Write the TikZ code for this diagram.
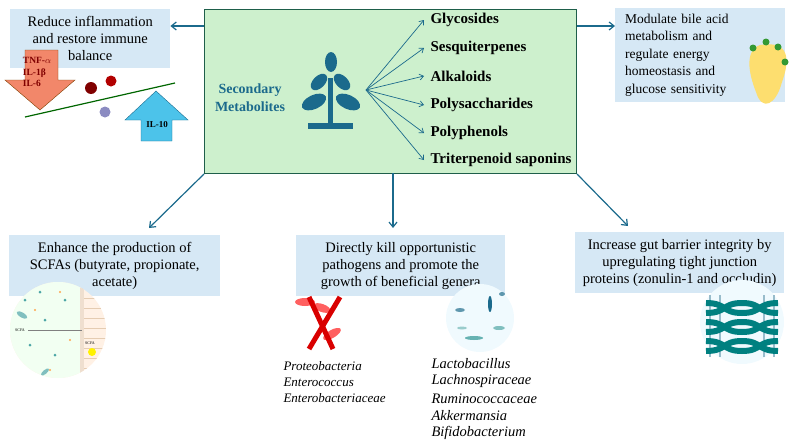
\documentclass[tikz,border=0pt]{standalone}
\usepackage{fontspec}
\setmainfont{Liberation Serif}
\usetikzlibrary{arrows.meta,shapes.geometric}
\definecolor{teal1}{HTML}{1B6A8C}
\definecolor{boxg}{HTML}{CDF0CD}
\definecolor{boxb}{HTML}{D6E8F5}
\definecolor{bordg}{HTML}{1E5E4A}
\definecolor{orng}{HTML}{F2876A}
\definecolor{cyn}{HTML}{4CC3EA}
\begin{document}
\begin{tikzpicture}[x=1pt,y=-1pt,
  lbl/.style={fill=boxb,align=center,font=\fontsize{14.5}{17}\selectfont,inner sep=2pt},
  arr/.style={teal1,line width=1.2pt,-{Straight Barb[length=5pt,width=8pt]}},
  fan/.style={teal1,line width=0.7pt,-{Straight Barb[length=4pt,width=6pt]}},
  item/.style={anchor=west,font=\bfseries\fontsize{15}{17}\selectfont},
  sp/.style={anchor=west,font=\itshape\fontsize{13}{15}\selectfont},
  spb/.style={anchor=west,font=\itshape\fontsize{14.5}{17}\selectfont}]
\useasboundingbox (0,0) rectangle (798,447);
% central box
\node[draw=bordg,line width=1pt,fill=boxg,minimum width=372pt,minimum height=164pt,anchor=north west,inner sep=0] (C) at (204,9) {};
\node[font=\bfseries\fontsize{14}{18}\selectfont,text=teal1,align=center] (SM) at (250,98) {Secondary\\Metabolites};
% plant icon
\begin{scope}[fill=teal1]
\fill (328,78) rectangle (333,124);
\fill (308,123) rectangle (353,129);
\fill (331,62) ellipse (6 and 10);
\fill[rotate around={-45:(319,82)}] (319,82) ellipse (6 and 10);
\fill[rotate around={45:(342,82)}] (342,82) ellipse (6 and 10);
\fill[rotate around={-65:(314,102)}] (314,102) ellipse (7 and 13);
\fill[rotate around={65:(348,102)}] (348,102) ellipse (7 and 13);
\end{scope}
\coordinate (F) at (366,90);
\node[item] (g1) at (427,20) {Glycosides};
\node[item] (g2) at (427,48) {Sesquiterpenes};
\node[item] (g3) at (427,76) {Alkaloids};
\node[item] (g4) at (427,105) {Polysaccharides};
\node[item] (g5) at (427,133) {Polyphenols};
\node[item] (g6) at (427,160) {Triterpenoid saponins};
\foreach \i in {1,...,6} \draw[fan] (F) -- ([xshift=-3pt]g\i.west);
% outer labels
\node[lbl,minimum width=160pt,minimum height=59pt,anchor=north west] (TL) at (10,9) {Reduce inflammation\\and restore immune\\balance};
\node[lbl,minimum width=170pt,minimum height=94pt,anchor=north west,text width=150pt,align=left,font=\fontsize{13.5}{17.5}\selectfont,inner xsep=10pt] (TR) at (615,8) {Modulate bile acid\\metabolism and\\regulate energy\\homeostasis and\\glucose sensitivity};
% inflammation icon
\fill[orng,draw=orange!50!black] (25,50) -- (58,50) -- (58,80) -- (75,80) -- (40,110) -- (5,80) -- (25,80) -- cycle;
\node[font=\bfseries\fontsize{9.5}{11.5}\selectfont,align=left,text=red!50!black] (DT) at (37,72) {TNF-$\alpha$\\IL-1β\\IL-6};
\fill[cyn,draw=teal1] (141,141) -- (172,141) -- (172,120) -- (188,120) -- (156,91) -- (125,120) -- (141,120) -- cycle;
\node[font=\bfseries\fontsize{9}{11}\selectfont] (UT) at (157,125) {IL-10};
\draw[green!40!black,line width=1.2pt] (25,117) -- (175,83);
\fill[red!50!black] (91,88) circle (6);
\fill[red!70!black] (111,81) circle (5.5);
\fill[blue!30!gray!70] (105,112) circle (5.5);
\node[lbl,minimum width=211pt,minimum height=61pt,anchor=north west] (BL) at (9,235) {Enhance the production of\\SCFAs (butyrate, propionate,\\acetate)};
\node[lbl,minimum width=209pt,minimum height=61pt,anchor=north west] (BM) at (296,235) {Directly kill opportunistic\\pathogens and promote the\\growth of beneficial genera};
\node[lbl,minimum width=209pt,minimum height=61pt,anchor=north west] (BR) at (575,232) {Increase gut barrier integrity by\\upregulating tight junction\\proteins (zonulin-1 and occludin)};
\draw[arr] (C.north west |- 0,26) -- (TL.east |- 0,26);
\draw[arr] (C.north east |- 0,26) -- (TR.west |- 0,26);
\draw[arr] (C.south west) -- (149,228);
\draw[arr] (393,173) -- (393,228);
\draw[arr] (C.south east) -- (628,226);
% red X bacteria
\fill[red!50!pink] (305,302) ellipse (10 and 4);
\fill[red!50!pink,rotate around={30:(332,334)}] (332,334) ellipse (10 and 4);
\fill[red!50!pink,rotate around={-20:(322,308)}] (322,308) ellipse (9 and 4);
\draw[red!85!black,line width=5pt] (309,297) -- (333,349);
\draw[red!85!black,line width=5pt] (340,297) -- (309,349);
% beneficial bacteria
\fill[cyan!6] (480,318) circle (34);
\fill[teal1!70] (460,310) ellipse (5 and 2);
\fill[teal1] (490,304) ellipse (2 and 8);
\fill[teal!60] (474,338) ellipse (9 and 2);
\fill[teal!50] (499,328) ellipse (6 and 2);
\fill[teal1!70] (502,294) ellipse (3 and 2);
\fill[teal!40] (462,328) ellipse (5 and 1.5);
% gut barrier
\fill[cyan!6] (742,322) circle (42);
\foreach \x in {710,720,764,774} \draw[teal1!45,line width=2pt] (\x,295) -- (\x,357);
\foreach \y in {303,322,341}{
 \draw[teal,line width=6pt] (706,\y) .. controls (727,\y) and (722,\y+10) .. (742,\y+10) .. controls (762,\y+10) and (757,\y) .. (778,\y);
 \draw[teal,line width=6pt] (706,\y+10) .. controls (727,\y+10) and (722,\y) .. (742,\y) .. controls (762,\y) and (757,\y+10) .. (778,\y+10);
}
% SCFA
\begin{scope}
\clip (58,330) circle (48);
\fill[red!10!orange!10] (0,270) rectangle (120,390);
\fill[green!5] (0,270) rectangle (82,390);
\foreach \y in {288,298,...,378} \draw[brown!40,line width=1pt] (82,\y) -- (106,\y);
\fill[brown!25] (80,270) rectangle (84,390);
\foreach \p in {(25,300),(40,292),(30,345),(55,355),(45,320),(65,300),(20,365)} \fill[teal!70] \p circle (1.5);
\foreach \p in {(60,292),(35,310),(70,340),(50,370)} \fill[orange!70] \p circle (1.2);
\fill[teal!50,rotate around={-30:(22,315)}] (22,315) ellipse (6 and 2.5);
\fill[teal!50,rotate around={40:(45,372)}] (45,372) ellipse (5 and 2);
\end{scope}
\node[font=\fontsize{4}{5}\selectfont] (S1) at (20,330) {SCFA};
\node[font=\fontsize{4}{5}\selectfont] (S2) at (90,343) {SCFA};
\fill[yellow] (92,352) circle (4);
\draw[gray,line width=0.3pt] (S1) -- (82,330);
% liver
\fill[yellow!60!orange!55] (760,45) .. controls (790,40) and (790,60) .. (782,82) .. controls (776,105) and (762,112) .. (756,92) .. controls (748,72) and (745,50) .. (760,45);
\foreach \p in {(753,48),(766,42),(778,47),(785,62)} \fill[green!50!black!80] \p circle (3.5);
% species
\node[sp] (p1) at (280,366) {Proteobacteria};
\node[sp] (p2) at (280,382) {Enterococcus};
\node[sp] (p3) at (280,398) {Enterobacteriaceae};
\node[spb] (b1) at (428,364) {Lactobacillus};
\node[spb] (b2) at (428,381) {Lachnospiraceae};
\node[spb] (b3) at (428,399) {Ruminococcaceae};
\node[spb] (b4) at (428,416) {Akkermansia};
\node[spb] (b5) at (428,433) {Bifidobacterium};
\end{tikzpicture}
\end{document}
